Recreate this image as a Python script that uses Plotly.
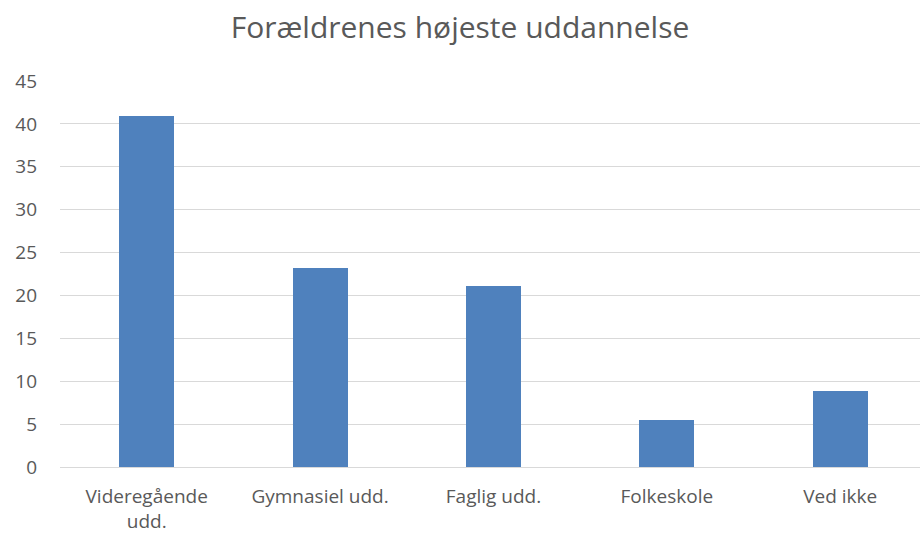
import plotly.graph_objects as go

categories = ["Videregående<br>udd.", "Gymnasiel udd.", "Faglig udd.", "Folkeskole", "Ved ikke"]
values = [40.9, 23.2, 21.1, 5.5, 8.9]
y_ticks = [0, 5, 10, 15, 20, 25, 30, 35, 40, 45]

fig = go.Figure(go.Bar(
    x=list(range(len(categories))),
    y=values,
    marker=dict(color="#4f81bd", line=dict(width=0)),
    width=0.318,
))

fig.update_layout(
    width=920, height=538,
    paper_bgcolor="white", plot_bgcolor="white",
    margin=dict(l=60, r=0, t=81, b=71),
    title=dict(text="Forældrenes højeste uddannelse", x=0.5, xanchor="center",
               y=0.948, yanchor="middle",
               font=dict(family="Open Sans", size=30, color="#595959")),
    font=dict(family="Open Sans", size=19, color="#595959"),
    showlegend=False,
    bargap=0,
)
fig.update_xaxes(
    tickmode="array", tickvals=list(range(len(categories))), ticktext=categories,
    range=[-0.5, 4.46], showgrid=False, showline=False, zeroline=False,
    ticks="", ticklabelstandoff=16, tickfont=dict(size=19, color="#595959"),
)
fig.update_yaxes(
    range=[0, 45], tickmode="array", tickvals=y_ticks,
    showgrid=True, gridcolor="#d9d9d9", gridwidth=1.3,
    zeroline=True, zerolinecolor="#d9d9d9", zerolinewidth=1.3,
    showline=False, ticks="", ticklabelstandoff=22,
    tickfont=dict(size=19, color="#595959"),
)

fig.write_html("out.html", config={"displayModeBar": False},
               post_script="document.body.style.margin='0';")
